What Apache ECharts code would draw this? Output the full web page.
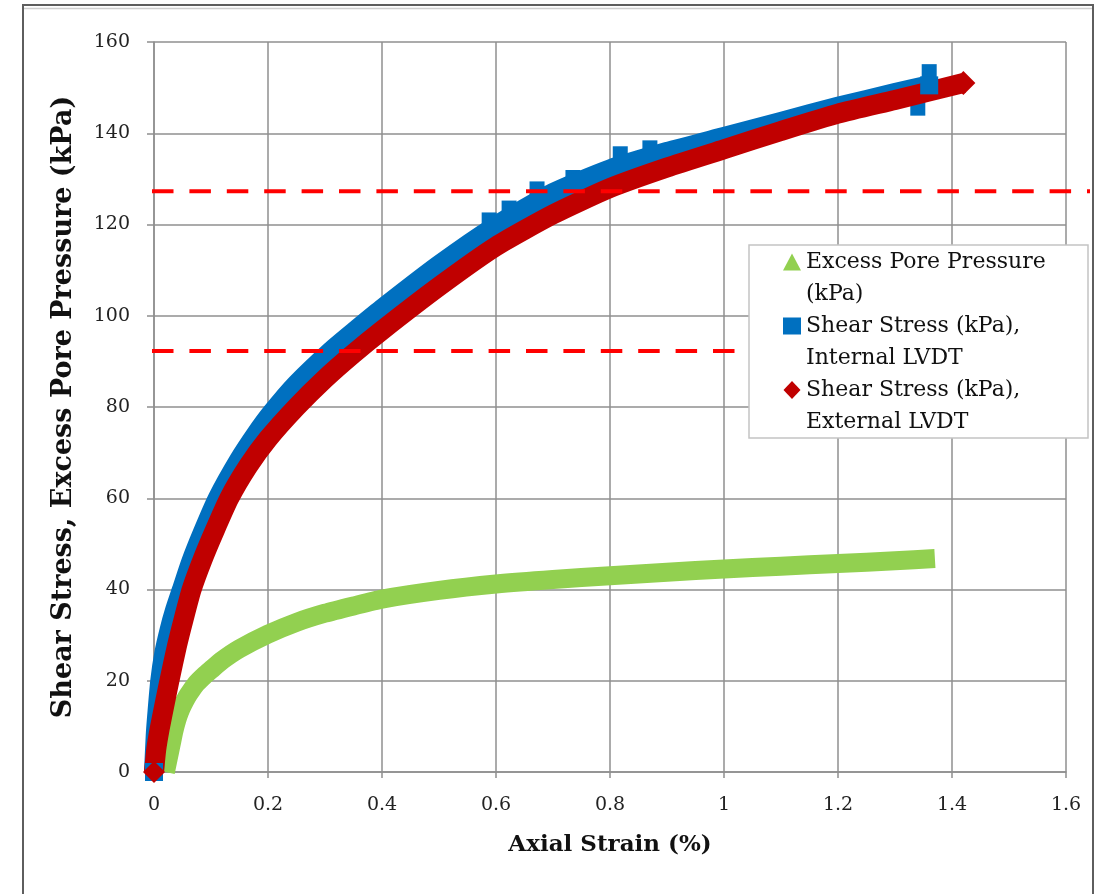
<!DOCTYPE html>
<html>
<head>
<meta charset="utf-8">
<script src="https://cdn.jsdelivr.net/npm/echarts/dist/echarts.min.js"></script>
<style>
html,body{margin:0;padding:0;background:#fff;}
#chart{width:1104px;height:894px;}
</style>
</head>
<body>
<div id="chart"></div>
<script>
// excess pore pressure (kPa) vs axial strain (%)
var poreStrain = [0.02, 0.025, 0.03, 0.035, 0.04, 0.045, 0.05, 0.058, 0.066, 0.075, 0.088, 0.1, 0.12, 0.15, 0.2, 0.25, 0.3, 0.35, 0.4, 0.5, 0.6, 0.7, 0.8, 0.9, 1.0, 1.1, 1.2, 1.3, 1.37];
var porePressure = [0, 3, 6, 9, 11.4, 13.2, 14.6, 16.5, 18, 19.5, 21.1, 22.4, 24.5, 27, 30.2, 32.8, 34.8, 36.4, 37.9, 39.8, 41.2, 42.2, 43.0, 43.8, 44.5, 45.1, 45.7, 46.3, 46.8];

// shear stress, internal LVDT
var intStrain = [0, 0.003, 0.006, 0.011, 0.018, 0.027, 0.037, 0.049, 0.065, 0.085, 0.112, 0.15, 0.18, 0.206, 0.25, 0.311, 0.35, 0.4, 0.5, 0.6, 0.7, 0.8, 0.9, 1.0, 1.1, 1.2, 1.3, 1.36];
var intStress = [0, 8, 13, 20, 26, 31, 35.5, 40, 46, 52.3, 60, 68.5, 74.2, 78.6, 85, 92.3, 96.4, 101.5, 111.1, 119.7, 126.9, 132.1, 135.9, 139.2, 142.5, 145.8, 148.8, 150.5];
// scattered internal LVDT points standing off the band
var intOutStrain = [0.588, 0.623, 0.672, 0.735, 0.818, 0.87, 1.36, 1.34];
var intOutStress = [121, 123.6, 127.8, 130.3, 135.5, 136.8, 153.5, 145.5];

// shear stress, external LVDT
var extStrain = [0, 0.004, 0.01, 0.018, 0.027, 0.04, 0.052, 0.066, 0.085, 0.105, 0.132, 0.165, 0.2, 0.25, 0.3, 0.35, 0.4, 0.5, 0.6, 0.7, 0.8, 0.9, 1.0, 1.1, 1.2, 1.3, 1.42];
var extStress = [0, 5, 9.5, 14.5, 20, 27.5, 33.5, 40, 46.5, 52.5, 60, 67, 73, 80, 86.2, 91.7, 96.8, 106.4, 115.2, 122.2, 128, 132.5, 136.5, 140.5, 144.3, 147.3, 151];

// red dashed reference levels (drawn on a wider helper grid, 0..1 = its full width)
var refLevels = [127.3, 92.3];
var refEnds = [1, 0.63];

var xTicks = ['0', '0.2', '0.4', '0.6', '0.8', '1', '1.2', '1.4', '1.6'];

var names = ['Excess Pore Pressure (kPa)', 'Shear Stress (kPa), Internal LVDT', 'Shear Stress (kPa), External LVDT'];
var legendText = {
    'Excess Pore Pressure (kPa)': 'Excess Pore Pressure\n(kPa)',
    'Shear Stress (kPa), Internal LVDT': 'Shear Stress (kPa),\nInternal LVDT',
    'Shear Stress (kPa), External LVDT': 'Shear Stress (kPa),\nExternal LVDT'
};
// legend icons: shape in the top part, bare moveTo points stretch the box to two text lines
var legendIcons = [
    'path://M0,24.5L18,24.5L9,7.5ZM0,0M18,64',
    'path://M0,7.5L18,7.5L18,24.5L0,24.5ZM0,0M18,64',
    'path://M9,7L17.5,16L9,25L0.5,16ZM0,0M18,64'
];

function pairs(xs, ys) {
    var out = [];
    for (var i = 0; i < xs.length; i++) {
        out.push([xs[i], ys[i]]);
    }
    return out;
}

// thick band, with a marker only on chosen points
function band(xs, ys, marks) {
    var d = pairs(xs, ys);
    for (var k in marks) {
        d[k] = { value: d[k], symbol: marks[k].symbol, symbolSize: marks[k].size };
    }
    return d;
}

var serif = 'DejaVu Serif';
var gridColor = '#8f8f8f';

var chart = echarts.init(document.getElementById('chart'));

var series = [{
    name: names[0],
    type: 'line',
    color: '#92d050',
    symbol: 'none',
    showSymbol: true,
    smooth: 0.2,
    lineStyle: { width: 19, join: 'round' },
    data: band(poreStrain, porePressure, {})
}, {
    name: names[1],
    type: 'line',
    color: '#0070c0',
    symbol: 'none',
    showSymbol: true,
    smooth: 0.2,
    lineStyle: { width: 20, join: 'round' },
    data: band(intStrain, intStress, {
        0: { symbol: 'rect', size: 18 },
        27: { symbol: 'rect', size: 18 }
    })
}, {
    type: 'scatter',
    color: '#0070c0',
    symbol: 'rect',
    symbolSize: 15,
    silent: true,
    itemStyle: { opacity: 1 },
    data: pairs(intOutStrain, intOutStress)
}, {
    name: names[2],
    type: 'line',
    color: '#c00000',
    symbol: 'none',
    showSymbol: true,
    smooth: 0.2,
    lineStyle: { width: 20, join: 'round' },
    data: band(extStrain, extStress, {
        0: { symbol: 'diamond', size: 22 },
        26: { symbol: 'diamond', size: 24 }
    })
}];

for (var i = 0; i < refLevels.length; i++) {
    series.push({
        type: 'line',
        xAxisIndex: 1,
        yAxisIndex: 1,
        color: '#ff0000',
        symbol: 'none',
        silent: true,
        z: 5,
        lineStyle: { width: 4, type: [21.5, 15.9] },
        data: [[0, refLevels[i]], [refEnds[i], refLevels[i]]]
    });
}

var option = {
    backgroundColor: '#fff',
    animation: false,
    grid: [{
        left: 154,
        right: 38,
        top: 42,
        bottom: 122,
        outerBoundsMode: 'none'
    }, {
        left: 152,
        right: 14,
        top: 42,
        bottom: 122,
        outerBoundsMode: 'none'
    }],
    graphic: [{
        type: 'rect',
        shape: { x: 23, y: 5, width: 1070, height: 900 },
        style: { fill: 'none', stroke: '#5e5e5e', lineWidth: 2 },
        silent: true
    }, {
        type: 'line',
        shape: { x1: 24, y1: 8.5, x2: 1092, y2: 8.5 },
        style: { stroke: '#cfcfcf', lineWidth: 1.5 },
        silent: true
    }],
    legend: {
        orient: 'vertical',
        left: 749,
        top: 245,
        padding: [1, 6, 0, 34],
        itemGap: 0,
        itemWidth: 18,
        itemHeight: 64,
        backgroundColor: '#fff',
        borderColor: '#c4c4c4',
        borderWidth: 1.5,
        borderRadius: 0,
        selectedMode: false,
        data: [
            { name: names[0], icon: legendIcons[0] },
            { name: names[1], icon: legendIcons[1] },
            { name: names[2], icon: legendIcons[2] }
        ],
        formatter: function (n) { return legendText[n]; },
        textStyle: {
            fontFamily: serif,
            fontSize: 22,
            color: '#111',
            lineHeight: 32,
            width: 276
        }
    },
    xAxis: [{
        type: 'value',
        gridIndex: 0,
        min: 0,
        max: 1.6,
        interval: 0.2,
        name: 'Axial Strain (%)',
        nameLocation: 'middle',
        nameGap: 62,
        nameTextStyle: { fontFamily: serif, fontWeight: 'bold', fontSize: 23, color: '#111' },
        axisLine: { lineStyle: { color: gridColor, width: 1.5 } },
        axisTick: { show: true, length: 6, lineStyle: { color: gridColor, width: 1.5 } },
        splitLine: { show: true, lineStyle: { color: gridColor, width: 1.5 } },
        axisLabel: {
            margin: 24,
            fontFamily: serif,
            fontSize: 19,
            color: '#222',
            formatter: function (v) { return xTicks[Math.round(v / 0.2)]; }
        }
    }, {
        type: 'value',
        gridIndex: 1,
        min: 0,
        max: 1,
        show: false
    }],
    yAxis: [{
        type: 'value',
        gridIndex: 0,
        min: 0,
        max: 160,
        interval: 20,
        name: 'Shear Stress, Excess Pore Pressure (kPa)',
        nameLocation: 'middle',
        nameGap: 77,
        nameTextStyle: { fontFamily: serif, fontWeight: 'bold', fontSize: 27, color: '#111' },
        axisLine: { show: true, lineStyle: { color: gridColor, width: 1.5 } },
        axisTick: { show: true, length: 7, lineStyle: { color: gridColor, width: 1.5 } },
        splitLine: { show: true, lineStyle: { color: gridColor, width: 1.5 } },
        axisLabel: {
            margin: 24,
            fontFamily: serif,
            fontSize: 19,
            color: '#222'
        }
    }, {
        type: 'value',
        gridIndex: 1,
        min: 0,
        max: 160,
        show: false
    }],
    series: series
};

chart.setOption(option);
</script>
</body>
</html>
